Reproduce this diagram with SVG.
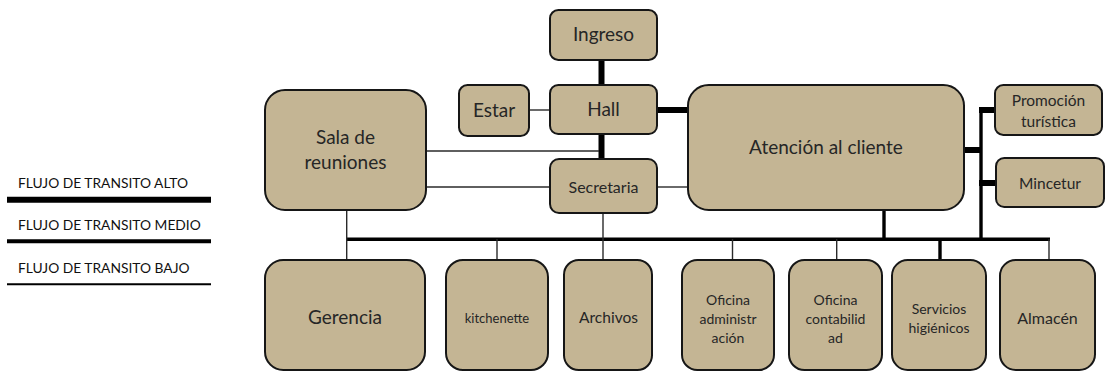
<svg xmlns="http://www.w3.org/2000/svg" width="1109" height="371" viewBox="0 0 1109 371">
  <style>
    .box { fill: #C4B594; stroke: #161616; stroke-width: 2; }
    .lbl { font-family: Lato, "Open Sans", "Liberation Sans", sans-serif; fill: #262626; text-anchor: middle; }
    .leg { font-family: Lato, "Open Sans", "Liberation Sans", sans-serif; fill: #111; font-size: 13.8px; }
    .thin { stroke: #2a2a2a; stroke-width: 1.4; fill: none; }
    .mid { stroke: #000; stroke-width: 3.4; fill: none; }
    .thick { stroke: #000; stroke-width: 6; fill: none; }
  </style>

  <rect width="1109" height="371" fill="#fff"/>

  <!-- legend -->
  <g id="legend">
    <text class="leg" x="18" y="188">FLUJO DE TRANSITO ALTO</text>
    <line x1="7" y1="199.7" x2="211" y2="199.7" stroke="#000" stroke-width="6"/>
    <text class="leg" x="18" y="230">FLUJO DE TRANSITO MEDIO</text>
    <line x1="7" y1="241.3" x2="211" y2="241.3" stroke="#000" stroke-width="4"/>
    <text class="leg" x="18" y="273">FLUJO DE TRANSITO BAJO</text>
    <line x1="7" y1="284.2" x2="211" y2="284.2" stroke="#000" stroke-width="2"/>
  </g>

  <!-- connectors -->
  <g id="connectors">
    <!-- high flow -->
    <line class="thick" x1="601.5" y1="60" x2="601.5" y2="85"/>
    <line class="thick" x1="601.5" y1="134" x2="601.5" y2="159"/>
    <line class="thick" x1="657" y1="110" x2="688" y2="110"/>
    <line class="thick" x1="964" y1="150" x2="981" y2="150"/>
    <line class="thick" x1="979" y1="110" x2="995" y2="110"/>
    <line class="thick" x1="979" y1="183" x2="996" y2="183"/>
    <!-- medium flow -->
    <line class="mid" x1="981" y1="107" x2="981" y2="239"/>
    <line class="mid" x1="884" y1="210" x2="884" y2="239"/>
    <line class="mid" x1="346" y1="239.3" x2="1050" y2="239.3"/>
    <line class="mid" x1="940" y1="239" x2="940" y2="260"/>
    <!-- low flow -->
    <line class="thin" x1="529" y1="110" x2="550" y2="110"/>
    <line class="thin" x1="426" y1="151" x2="599" y2="151"/>
    <line class="thin" x1="426" y1="187" x2="550" y2="187"/>
    <line class="thin" x1="657" y1="187" x2="688" y2="187"/>
    <line class="thin" x1="346.7" y1="210" x2="346.7" y2="260"/>
    <line class="thin" x1="603" y1="213" x2="603" y2="260"/>
    <line class="thin" x1="497" y1="239" x2="497" y2="260"/>
    <line class="thin" x1="732.5" y1="239" x2="732.5" y2="260"/>
    <line class="thin" x1="836.7" y1="239" x2="836.7" y2="260"/>
    <line class="thin" x1="1049" y1="239" x2="1049" y2="260"/>
  </g>

  <!-- upper row -->
  <g id="ingreso">
    <rect class="box" x="550" y="10" width="107" height="50" rx="8.3"/>
    <text class="lbl" x="603.5" y="41" font-size="19">Ingreso</text>
  </g>
  <g id="estar">
    <rect class="box" x="459" y="85" width="70" height="51" rx="8.5"/>
    <text class="lbl" x="494" y="116.5" font-size="19">Estar</text>
  </g>
  <g id="hall">
    <rect class="box" x="550" y="85" width="107" height="49" rx="8.2"/>
    <text class="lbl" x="603.5" y="116" font-size="19">Hall</text>
  </g>
  <g id="secretaria">
    <rect class="box" x="550" y="159" width="107" height="54" rx="9"/>
    <text class="lbl" x="603.5" y="192.5" font-size="16">Secretaria</text>
  </g>
  <g id="sala-reuniones">
    <rect class="box" x="265" y="90" width="161" height="120" rx="20"/>
    <text class="lbl" x="345.5" y="144" font-size="19">Sala de</text>
    <text class="lbl" x="345.5" y="169" font-size="19">reuniones</text>
  </g>
  <g id="atencion-cliente">
    <rect class="box" x="688" y="85" width="276" height="125" rx="20.8"/>
    <text class="lbl" x="826" y="154" font-size="19">Atención al cliente</text>
  </g>
  <g id="promocion">
    <rect class="box" x="995" y="85" width="107" height="50" rx="8.3"/>
    <text class="lbl" x="1048.5" y="106" font-size="15.5">Promoción</text>
    <text class="lbl" x="1048.5" y="127" font-size="15.5">turística</text>
  </g>
  <g id="mincetur">
    <rect class="box" x="996" y="158" width="108" height="49" rx="8.2"/>
    <text class="lbl" x="1050" y="189" font-size="15.5">Mincetur</text>
  </g>

  <!-- lower row -->
  <g id="gerencia">
    <rect class="box" x="265" y="260" width="160" height="110" rx="18.3"/>
    <text class="lbl" x="345" y="323.5" font-size="19">Gerencia</text>
  </g>
  <g id="kitchenette">
    <rect class="box" x="446" y="260" width="102" height="110" rx="17"/>
    <text class="lbl" x="497" y="322.5" font-size="13">kitchenette</text>
  </g>
  <g id="archivos">
    <rect class="box" x="564" y="260" width="88" height="110" rx="14.7"/>
    <text class="lbl" x="608.5" y="323" font-size="15.5">Archivos</text>
  </g>
  <g id="oficina-administracion">
    <rect class="box" x="682" y="260" width="92" height="110" rx="15.3"/>
    <text class="lbl" x="728" y="304.5" font-size="14">Oficina</text>
    <text class="lbl" x="728" y="324" font-size="14">administr</text>
    <text class="lbl" x="728" y="343" font-size="14">ación</text>
  </g>
  <g id="oficina-contabilidad">
    <rect class="box" x="789" y="260" width="93" height="110" rx="15.5"/>
    <text class="lbl" x="835.5" y="304.5" font-size="14">Oficina</text>
    <text class="lbl" x="835.5" y="324" font-size="14">contabilid</text>
    <text class="lbl" x="835.5" y="343" font-size="14">ad</text>
  </g>
  <g id="servicios-higienicos">
    <rect class="box" x="892" y="260" width="94" height="110" rx="15.7"/>
    <text class="lbl" x="939" y="314" font-size="14">Servicios</text>
    <text class="lbl" x="939" y="333" font-size="14">higiénicos</text>
  </g>
  <g id="almacen">
    <rect class="box" x="1000" y="260" width="95" height="110" rx="15.8"/>
    <text class="lbl" x="1047.5" y="323.5" font-size="16">Almacén</text>
  </g>
</svg>
